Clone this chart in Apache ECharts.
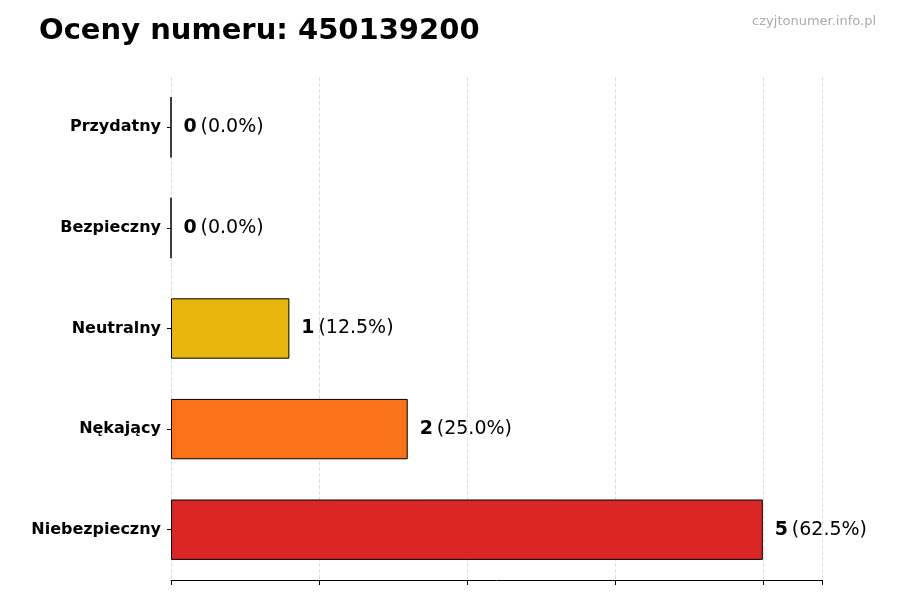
<!DOCTYPE html>
<html><head><meta charset="utf-8">
<script src="https://cdn.jsdelivr.net/npm/echarts@6/dist/echarts.min.js"></script>
<style>body{margin:0}#c{width:900px;height:600px}</style></head>
<body><div id="c"></div>
<script>
const categories = ['Niebezpieczny','Nękający','Neutralny','Bezpieczny','Przydatny'];
const values = [5,2,1,0,0];
const colors = ['#DC2626','#F97316','#E8B50C','#22C55E','#16A34A'];
const total = values.reduce((a,b)=>a+b,0);
const chart = echarts.init(document.getElementById('c'));
chart.setOption({
  animation:false,
  title:[{text:'Oceny numeru: 450139200',left:34,top:12,textStyle:{fontSize:29,fontWeight:'bold',color:'#000',fontFamily:'DejaVu Sans'}},
         {text:'czyjtonumer.info.pl',right:19,top:10,textStyle:{fontSize:13,fontWeight:'normal',color:'#aaa',fontFamily:'DejaVu Sans'}}],
  grid:{left:171,right:78,top:77,bottom:20},
  xAxis:{type:'value',min:0,max:5.5,interval:1.25,
    axisLine:{show:true,lineStyle:{color:'#000'}},axisTick:{show:true,length:5,lineStyle:{color:'#000'}},
    axisLabel:{show:false},
    splitLine:{show:true,lineStyle:{type:'dashed',color:'#ddd'}}},
  yAxis:{type:'category',data:categories,
    axisLine:{show:false},axisTick:{show:true,alignWithLabel:true,length:4,lineStyle:{color:'#000'}},
    axisLabel:{fontSize:16,fontWeight:'bold',color:'#000',fontFamily:'DejaVu Sans',margin:10}},
  series:[{type:'bar',barWidth:'60%',
    data:values.map((v,i)=>({value:v,itemStyle:{color:colors[i]}})),
    itemStyle:{borderColor:'#000',borderWidth:1},
    label:{show:true,position:'right',distance:12,fontFamily:'DejaVu Sans',
      formatter:p=>'{b|'+p.value+'} {n|('+(p.value/total*100).toFixed(1)+'%)}',
      rich:{b:{fontSize:19,fontWeight:'bold',color:'#000',fontFamily:'DejaVu Sans'},n:{fontSize:19,color:'#000',fontFamily:'DejaVu Sans'}}}
  }]
});
</script></body></html>
